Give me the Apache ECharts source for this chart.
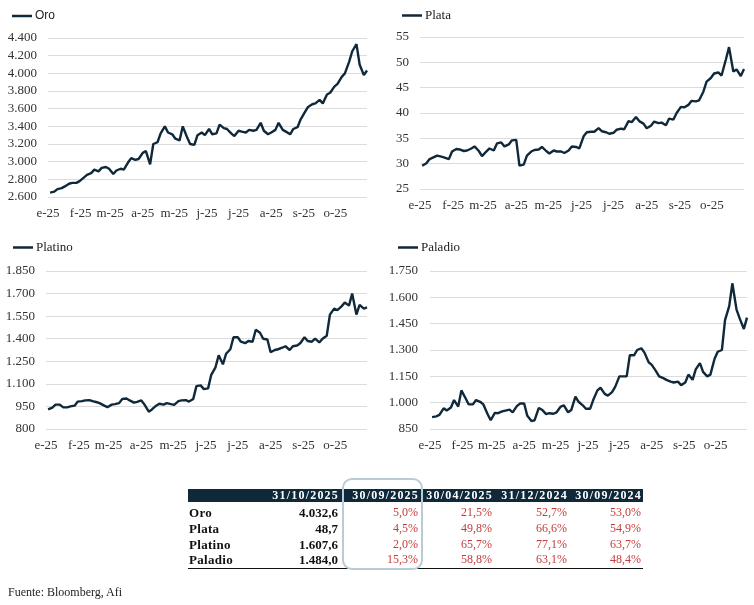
<!DOCTYPE html>
<html><head><meta charset="utf-8">
<script src="https://cdn.jsdelivr.net/npm/echarts@6/dist/echarts.min.js"></script>
<style>
html,body{margin:0;padding:0;background:#fff;}
#c{position:absolute;left:0;top:0;width:754px;height:605px;}
#tbl{position:absolute;left:188px;top:489px;border-collapse:collapse;font-family:"Liberation Serif",serif;font-size:12px;table-layout:fixed;}
#tbl th{background:#10293a;color:#fff;font-weight:bold;text-align:right;height:13px;padding:0 1px 0 0;letter-spacing:1.2px;font-size:12px;line-height:13px;white-space:nowrap;}
#tbl td{height:15.7px;padding:0 2px 0 0;line-height:15px;text-align:right;color:#c43c3c;white-space:nowrap;}
#tbl tr.first td{padding-top:3px;}
#tbl td.n{text-align:left;font-weight:bold;color:#111;padding-left:1px;letter-spacing:0.3px;font-size:13px;}
#tbl td.v{font-weight:bold;color:#111;font-size:13px;}
#tbl tr:last-child td{border-bottom:1.5px solid #111;}
#hl{position:absolute;left:342px;top:478px;width:77px;height:88px;border:2px solid #b9cbd6;border-radius:10px;}
#src{position:absolute;left:8px;top:585px;font-family:"Liberation Serif",serif;font-size:12px;color:#222;}
</style></head><body>
<div id="c"></div>
<table id="tbl"></table>
<div id="hl"></div>
<div id="src">Fuente: Bloomberg, Afi</div>
<script>
// Sample schedule: Fridays and Tuesdays from 3 Jan 2025 to 31 Oct 2025
const monthInitials = ['e','f','m','a','m','j','j','a','s','o','n','d'];
const oro = [2650,2660,2690,2700,2720,2750,2760,2760,2780,2820,2850,2870,2910,2890,2930,2940,2920,2860,2900,2920,2910,2990,3040,3020,3030,3100,3120,2970,3200,3220,3320,3400,3330,3310,3260,3240,3400,3280,3200,3190,3300,3330,3300,3370,3310,3320,3420,3380,3370,3320,3290,3350,3340,3330,3360,3350,3360,3440,3350,3310,3330,3360,3440,3360,3340,3310,3370,3390,3480,3560,3620,3650,3660,3700,3660,3760,3780,3850,3880,3960,4000,4130,4250,4330,4100,3980,4032.6];
const plata = [29.6,30.1,30.9,31.3,31.6,31.4,31.2,30.9,32.4,32.9,32.8,32.5,32.6,33.0,33.4,32.5,31.5,32.4,33.0,32.6,34.0,34.2,33.4,33.8,34.6,34.7,29.6,29.8,31.6,32.4,32.7,32.8,33.3,32.5,32.0,32.6,32.4,32.4,32.1,32.6,33.4,33.3,33.0,35.4,36.2,36.3,36.3,37.0,36.4,36.2,35.9,36.1,36.7,36.9,36.8,38.4,38.2,39.2,38.4,37.9,37.0,37.5,38.3,38.0,38.1,37.6,38.9,38.7,40.0,41.2,41.1,41.6,42.4,42.3,42.5,44.2,46.2,46.9,47.8,48.0,47.4,50.5,53.0,48.2,48.6,47.3,48.7];
const platino = [930,942,962,962,945,944,950,955,982,985,990,992,985,978,970,955,945,962,965,972,1000,1003,990,975,980,990,962,915,930,955,968,962,972,965,960,985,990,992,982,1000,1085,1090,1065,1070,1160,1210,1290,1230,1300,1330,1410,1410,1380,1370,1385,1380,1460,1440,1400,1395,1310,1325,1330,1340,1350,1325,1350,1355,1370,1410,1385,1380,1400,1375,1400,1420,1560,1600,1590,1615,1640,1620,1700,1560,1625,1600,1607.6];
const paladio = [918,922,930,968,955,972,1015,978,1070,1025,990,990,1015,1005,990,935,900,942,940,950,955,960,945,980,995,995,925,895,900,970,960,935,940,937,945,978,985,945,958,1035,1005,985,965,965,1015,1070,1085,1050,1040,1060,1090,1150,1150,1150,1270,1270,1300,1310,1285,1230,1215,1180,1150,1140,1130,1120,1115,1120,1100,1115,1160,1130,1190,1225,1175,1150,1160,1250,1290,1300,1470,1550,1680,1530,1480,1420,1484];
const yTicksOro = [2600,4400,200];
const yTicksPlata = [25,55,5];
const yTicksPlatino = [800,1850,150];
const yTicksPaladio = [850,1750,150];

const tableDates = ['31/10/2025','30/09/2025','30/04/2025','31/12/2024','30/09/2024'];
const tableNames = ['Oro','Plata','Platino','Paladio'];
const lastPrice = [4032.6,48.7,1607.6,1484.0];
const changes = [[5.0,21.5,52.7,53.0],[4.5,49.8,66.6,54.9],[2.0,65.7,77.1,63.7],[15.3,58.8,63.1,48.4]];

// build sample dates
const dates = [];
{
  let d = new Date(2025,0,3);
  let step = 4;
  while (d <= new Date(2025,9,31)) {
    dates.push(d.getTime());
    d = new Date(d.getFullYear(), d.getMonth(), d.getDate()+step);
    step = step === 4 ? 3 : 4;
  }
}
function thou(v){
  const s = Math.round(v).toString();
  return s.replace(/\B(?=(\d{3})+(?!\d))/g,'.');
}
function fmt1(v){
  const [i,f] = v.toFixed(1).split('.');
  return thou(+i)+','+f;
}

const lineColor = '#10293a';
const serif = '"Liberation Serif", "Times New Roman", serif';
const grids = [
  {left:48, top:38, width:319, height:159},
  {left:420, top:37, width:324, height:152},
  {left:46, top:271, width:321, height:158},
  {left:430, top:271, width:317, height:158}
];
const names = ['Oro','Plata','Platino','Paladio'];
const seriesVals = [oro, plata, platino, paladio];
const yt = [yTicksOro, yTicksPlata, yTicksPlatino, yTicksPaladio];
const yMargins = [11,11,11,12];
const legendPos = [{left:12,top:10},{left:402,top:9},{left:13,top:241},{left:398,top:241}];

const option = {
  animation:false,
  backgroundColor:'#fff',
  grid: grids,
  legend: names.map((n,i)=>({
    gridIndex:i, data:[n], left:legendPos[i].left, top:legendPos[i].top, padding:0,
    icon:'rect', itemWidth:20, itemHeight:2.5, itemGap:4,
    textStyle:{fontFamily: i===0 ? '"Liberation Sans", Arial, sans-serif' : serif, fontSize: i===0?12:13, color:'#222', padding:[0,0,0,-2]}
  })),
  xAxis: names.map((n,i)=>({
    type:'time', gridIndex:i,
    min: new Date(2025,0,1).getTime(), max: new Date(2025,9,31).getTime(),
    minInterval: 28*864e5, maxInterval: 31*864e5,
    axisLine:{show:false}, axisTick:{show:false}, splitLine:{show:false},
    axisLabel:{
      color:'#333', fontFamily:serif, fontSize:13, margin:10,
      showMaxLabel:false,
      formatter: (v)=>{ const d=new Date(v); return monthInitials[d.getMonth()]+'-'+String(d.getFullYear()).slice(2); }
    }
  })),
  yAxis: names.map((n,i)=>({
    type:'value', gridIndex:i, min:yt[i][0], max:yt[i][1], interval:yt[i][2],
    axisLine:{show:false}, axisTick:{show:false},
    splitLine:{show:true, lineStyle:{color:'#dcdcdc', type:'solid', width:1}},
    axisLabel:{color:'#333', fontFamily:serif, fontSize:13, margin:yMargins[i], formatter:(v)=>thou(v)}
  })),
  series: names.map((n,i)=>({
    name:n, type:'line', xAxisIndex:i, yAxisIndex:i,
    data: seriesVals[i].map((v,k)=>[dates[k], v]),
    showSymbol:false, symbol:'none',
    lineStyle:{color:lineColor, width:2.4}, itemStyle:{color:lineColor}
  }))
};
const chart = echarts.init(document.getElementById('c'), null, {renderer:'canvas'});
chart.setOption(option);

// table
const tbl = document.getElementById('tbl');
const widths = [74,78,80,74,75,74];
let html = '<colgroup>'+widths.map(w=>'<col style="width:'+w+'px">').join('')+'</colgroup>';
html += '<tr><th></th>'+tableDates.map(d=>'<th>'+d+'</th>').join('')+'</tr>';
tableNames.forEach((n,i)=>{
  html += '<tr'+(i===0?' class="first"':'')+'><td class="n">'+n+'</td><td class="v">'+fmt1(lastPrice[i])+'</td>'+changes[i].map(c=>'<td>'+fmt1(c)+'%</td>').join('')+'</tr>';
});
tbl.innerHTML = html;
tbl.style.width = widths.reduce((a,b)=>a+b,0)+'px';
</script>
</body></html>
